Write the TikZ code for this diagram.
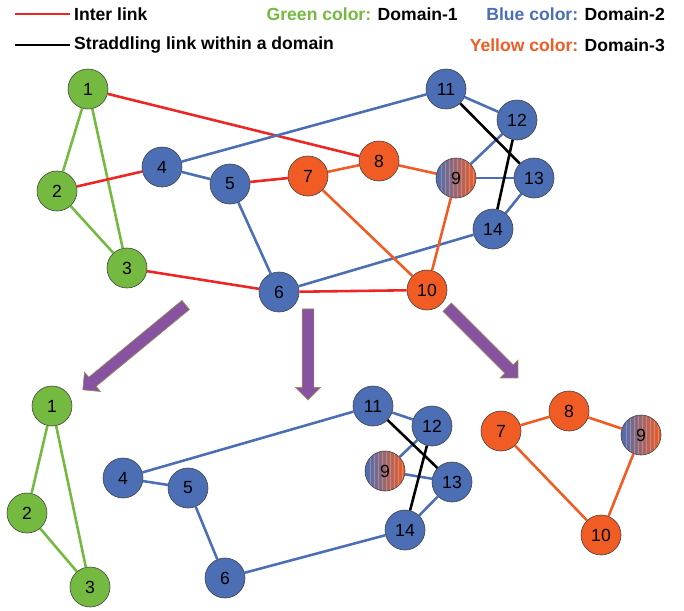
\documentclass[tikz,border=0pt]{standalone}
\usepackage{fontspec}
\setmainfont{Liberation Sans}
\usepackage{tikz}
\usetikzlibrary{shapes.arrows}
\definecolor{dgreen}{RGB}{116,185,64}
\definecolor{dblue}{RGB}{75,110,180}
\definecolor{dorange}{RGB}{240,92,36}
\definecolor{ired}{RGB}{236,38,36}
\definecolor{mixmid}{RGB}{150,112,90}
\definecolor{split}{RGB}{135,82,160}
\definecolor{splitrim}{RGB}{150,140,95}

\begin{document}
\begin{tikzpicture}[x=0.03cm,y=-0.03cm,
  dom/.style={circle,draw=black!75,line width=0.5pt,minimum size=1.2cm,
     inner sep=0pt,font=\fontsize{15}{17}\selectfont},
  gn/.style={dom,fill=dgreen},
  bn/.style={dom,fill=dblue},
  on/.style={dom,fill=dorange},
  mixn/.style={dom,left color=dblue,middle color=mixmid,right color=dorange,
     path picture={\foreach \i in {-15,-11,-7,-3,1,5,9,13,17}
       \draw[white,opacity=0.25,line width=0.4pt]
         ([xshift={\i*0.03cm}]path picture bounding box.north) --
         ([xshift={\i*0.03cm}]path picture bounding box.south);}},
  lk/.style={line width=2.2pt},
  glk/.style={lk,draw=dgreen}, blk/.style={lk,draw=dblue},
  olk/.style={lk,draw=dorange}, rlk/.style={lk,draw=ired},
  slk/.style={lk,draw=black},
  legend/.style={font=\fontsize{15}{17}\selectfont\bfseries,inner sep=0pt},
  splitarrow/.style={single arrow,draw=splitrim,fill=split,line width=0.6pt,
     inner xsep=0pt,inner ysep=0.165cm,single arrow head extend=0.2cm,
     single arrow head indent=0pt}]
\useasboundingbox (0,0) rectangle (684,610);

% legend
\coordinate (ra) at (15,14); \coordinate (rb) at (70,14);
\coordinate (ka) at (15,45); \coordinate (kb) at (70,45);
\draw[ired,line width=1.8pt] (ra)--(rb);
\draw[black,line width=1.8pt] (ka)--(kb);
\node[legend,anchor=west] (inter) at (74,14) {Inter link};
\node[legend,anchor=west] (strad) at (74,45) {Straddling link within a domain};
\node[legend,anchor=east] (dom1) at (458,14) {\textcolor{dgreen}{Green color:} Domain-1};
\node[legend,anchor=east] (dom2) at (665,14) {\textcolor{dblue}{Blue color:} Domain-2};
\node[legend,anchor=east] (dom3) at (665,45) {\textcolor{dorange}{Yellow color:} Domain-3};

% whole network
\node[gn] (t1) at (88,89) {1};
\node[gn] (t2) at (57,191) {2};
\node[gn] (t3) at (127,268) {3};
\node[bn] (t4) at (162,167) {4};
\node[bn] (t5) at (230,184) {5};
\node[bn] (t6) at (279,292) {6};
\node[on] (t7) at (308,176) {7};
\node[on] (t8) at (379,161) {8};
\node[mixn] (t9) at (456,178) {9};
\node[on] (t10) at (427,290) {10};
\node[bn] (t11) at (446,89) {11};
\node[bn] (t12) at (517,120) {12};
\node[bn] (t13) at (534,178) {13};
\node[bn] (t14) at (493,229) {14};
\draw[glk] (t1)--(t2);\draw[glk] (t1)--(t3);\draw[glk] (t2)--(t3);
\draw[rlk] (t1)--(t8);\draw[rlk] (t2)--(t4);\draw[rlk] (t3)--(t6);
\draw[rlk] (t5)--(t7);\draw[rlk] (t6)--(t10);
\draw[blk] (t4)--(t11);\draw[blk] (t4)--(t5);\draw[blk] (t5)--(t6);
\draw[blk] (t6)--(t14);\draw[blk] (t11)--(t12);\draw[blk] (t12)--(t9);
\draw[blk] (t9)--(t13);\draw[blk] (t13)--(t14);
\draw[slk] (t11)--(t13);\draw[slk] (t12)--(t14);
\draw[olk] (t7)--(t8);\draw[olk] (t8)--(t9);\draw[olk] (t7)--(t10);\draw[olk] (t9)--(t10);

% split arrows
\node[splitarrow,minimum height=4.0cm,rotate=219.5] (cut1) at (136.5,345.5) {};
\node[splitarrow,minimum height=2.73cm,rotate=270] (cut2) at (308,351.5) {};
\node[splitarrow,minimum height=3.0cm,rotate=-45] (cut3) at (480.5,340.5) {};

% domain 1
\node[gn] (g1) at (52,406) {1};
\node[gn] (g2) at (27,513) {2};
\node[gn] (g3) at (90,587) {3};
\draw[glk] (g1)--(g2);\draw[glk] (g1)--(g3);\draw[glk] (g2)--(g3);

% domain 2
\node[bn] (b4) at (123,478) {4};
\node[bn] (b5) at (188,488) {5};
\node[bn] (b6) at (225,578) {6};
\node[bn] (b11) at (373,406) {11};
\node[bn] (b12) at (432,426) {12};
\node[mixn] (b9) at (385,471) {9};
\node[bn] (b13) at (452,482) {13};
\node[bn] (b14) at (405,530) {14};
\draw[blk] (b4)--(b11);\draw[blk] (b4)--(b5);\draw[blk] (b5)--(b6);
\draw[blk] (b6)--(b14);\draw[blk] (b11)--(b12);\draw[blk] (b12)--(b9);
\draw[blk] (b9)--(b13);\draw[blk] (b13)--(b14);
\draw[slk] (b11)--(b13);\draw[slk] (b12)--(b14);

% domain 3
\node[on] (o7) at (501,431) {7};
\node[on] (o8) at (569,411) {8};
\node[mixn] (o9) at (641,435) {9};
\node[on] (o10) at (601,535) {10};
\draw[olk] (o7)--(o8);\draw[olk] (o8)--(o9);\draw[olk] (o9)--(o10);\draw[olk] (o7)--(o10);
\end{tikzpicture}
\end{document}
